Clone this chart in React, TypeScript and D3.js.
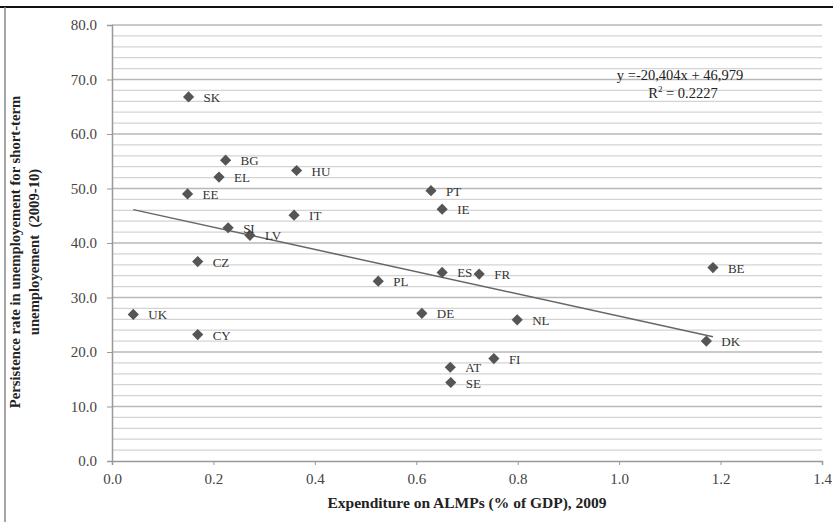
import { useEffect, useRef } from "react";
import * as d3 from "d3";

const countries = ["SK", "BG", "EL", "EE", "HU", "IT", "SI", "LV", "CZ", "PL", "UK", "CY", "PT", "IE", "ES", "FR", "BE", "DE", "NL", "DK", "FI", "AT", "SE"];
const spending = [0.151, 0.224, 0.211, 0.149, 0.364, 0.359, 0.229, 0.272, 0.169, 0.525, 0.042, 0.169, 0.629, 0.651, 0.651, 0.724, 1.185, 0.611, 0.799, 1.172, 0.753, 0.667, 0.668];
const persistence = [66.8, 55.2, 52.1, 49.0, 53.3, 45.1, 42.8, 41.4, 36.6, 33.0, 26.9, 23.2, 49.6, 46.2, 34.6, 34.3, 35.5, 27.1, 25.9, 22.0, 18.8, 17.2, 14.4];
const xTicks = [0, 0.2, 0.4, 0.6, 0.8, 1.0, 1.2, 1.4];
const yTicks = [0, 10, 20, 30, 40, 50, 60, 70, 80];
const trendSlope = -20.404;
const trendIntercept = 46.979;

const W = 833;
const H = 522;
const serif = "'Liberation Serif', 'Times New Roman', serif";

export default function App() {
  const ref = useRef<SVGSVGElement>(null);

  useEffect(() => {
    document.body.style.margin = "0";
    document.body.style.overflow = "hidden";
    if (!ref.current) return;
    const svg = d3.select(ref.current);
    svg.selectAll("*").remove();

    const left = 112, right = 822, top = 25, bottom = 461;
    const x = d3.scaleLinear().domain([0, 1.4]).range([left, right]);
    const y = d3.scaleLinear().domain([0, 80]).range([bottom, top]);

    svg.append("rect").attr("width", W).attr("height", H).attr("fill", "#fff");
    // frame
    svg.append("line").attr("x1", 0).attr("x2", W).attr("y1", 7).attr("y2", 7)
      .attr("stroke", "#111").attr("stroke-width", 2);
    svg.append("line").attr("x1", 5).attr("x2", 5).attr("y1", 7).attr("y2", H)
      .attr("stroke", "#888").attr("stroke-width", 1.5);

    // gridlines every 2
    const grid = d3.range(2, 81, 2);
    svg.append("g").selectAll("line").data(grid).enter().append("line")
      .attr("x1", left).attr("x2", right)
      .attr("y1", (d) => y(d)).attr("y2", (d) => y(d))
      .attr("stroke", (d) => (d % 10 === 0 ? "#b8b8b8" : "#d4d4d4"))
      .attr("stroke-width", (d) => (d % 10 === 0 ? 1.6 : 1.2));

    const yAxis = svg.append("g").attr("transform", `translate(${left},0)`)
      .call(d3.axisLeft(y).tickValues(yTicks).tickFormat(d3.format(".1f")).tickSize(5).tickPadding(10));
    const xAxis = svg.append("g").attr("transform", `translate(0,${bottom})`)
      .call(d3.axisBottom(x).tickValues(xTicks).tickFormat(d3.format(".1f")).tickSize(4).tickPadding(8));
    [yAxis, xAxis].forEach((a) => {
      a.select(".domain").attr("stroke", "#999").attr("stroke-width", 1.5);
      a.selectAll(".tick line").attr("stroke", "#999");
      a.selectAll("text").attr("fill", "#444").attr("font-size", "15px").attr("font-family", serif);
    });

    // trend line
    const [x0, x1] = d3.extent(spending) as [number, number];
    svg.append("line")
      .attr("x1", x(x0)).attr("y1", y(trendIntercept + trendSlope * x0))
      .attr("x2", x(x1)).attr("y2", y(trendIntercept + trendSlope * x1))
      .attr("stroke", "#666").attr("stroke-width", 1.5);

    const pts = countries.map((c, i) => ({ c, vx: spending[i], vy: persistence[i] }));
    const sym = d3.symbol().type(d3.symbolDiamond2).size(80);
    svg.append("g").selectAll("path").data(pts).enter().append("path")
      .attr("d", sym)
      .attr("transform", (d) => `translate(${x(d.vx)},${y(d.vy)})`)
      .attr("fill", "#555");
    svg.append("g").selectAll("text").data(pts).enter().append("text")
      .attr("x", (d) => x(d.vx) + 15).attr("y", (d) => y(d.vy) + 5)
      .attr("font-family", serif).attr("font-size", "13px").attr("fill", "#333")
      .text((d) => d.c);

    // equation
    const eq = svg.append("g").attr("font-family", serif).attr("font-size", "14.5px")
      .attr("fill", "#222").attr("text-anchor", "middle");
    eq.append("text").attr("x", 680).attr("y", 80).text("y =-20,404x + 46,979");
    const r2 = eq.append("text").attr("x", 683).attr("y", 98);
    r2.append("tspan").text("R");
    r2.append("tspan").attr("font-size", "9px").attr("dy", -6).text("2");
    r2.append("tspan").attr("dy", 6).text(" = 0.2227");

    // axis titles
    svg.append("text").attr("x", 467).attr("y", 508).attr("text-anchor", "middle")
      .attr("font-family", serif).attr("font-size", "15.5px").attr("font-weight", "bold")
      .attr("fill", "#222").text("Expenditure on ALMPs (% of GDP), 2009");
    const yt = svg.append("text").attr("transform", "translate(20,252) rotate(-90)")
      .attr("text-anchor", "middle").attr("font-family", serif).attr("font-size", "14.7px")
      .attr("font-weight", "bold").attr("fill", "#222");
    yt.append("tspan").attr("x", 0).attr("dy", 0).text("Persistence rate in unemployement for short-term");
    yt.append("tspan").attr("x", 0).attr("dy", 19).attr("xml:space", "preserve").text("unemployement  (2009-10)");
  }, []);

  return <svg ref={ref} width={W} height={H} style={{ display: "block" }} />;
}
